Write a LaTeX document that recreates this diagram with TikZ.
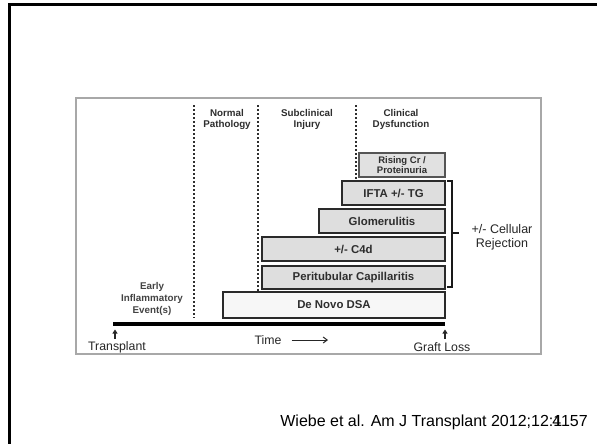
\documentclass[tikz,border=0pt]{standalone}
\usepackage{fontspec}
\setmainfont{Liberation Sans}
\usetikzlibrary{arrows.meta}
\definecolor{figtext}{HTML}{2E2E2E}
\definecolor{boxline}{HTML}{2A2A2A}
\definecolor{boxfill}{HTML}{DEDEDE}
\definecolor{dsafill}{HTML}{F7F7F7}
\definecolor{framegray}{HTML}{A8A8A8}
\tikzset{
  stagebox/.style={draw=boxline, line width=1.8pt, fill=boxfill, text=figtext,
    font=\bfseries\fontsize{11.4}{13}\selectfont, inner sep=0pt, minimum height=24pt},
  smallbox/.style={draw=boxline!80, line width=1.2pt, fill=boxfill!90, text=figtext,
    font=\bfseries\fontsize{9.5}{11}\selectfont, inner sep=0pt, align=center, minimum height=24pt},
  header/.style={text=figtext, font=\bfseries\fontsize{9.8}{11}\selectfont, align=center, inner sep=0pt},
  divider/.style={draw=figtext, line width=1.4pt, dash pattern=on 2pt off 2pt},
  axislabel/.style={text=black!85, font=\fontsize{12.3}{14}\selectfont, inner sep=0pt},
  uparrow/.style={draw=black!85, line width=1.4pt, -{Triangle[width=5pt,length=4pt]}},
  bracketline/.style={draw=black!90, line width=1.5pt}
}
\begin{document}
\begin{tikzpicture}[x=1pt,y=-1pt]
\useasboundingbox (0,0) rectangle (597,444);
\fill[white] (0,0) rectangle (597,444);
% slide frame
\draw[black, line width=3pt] (9.5,444) -- (9.5,4.5) -- (597,4.5);
% figure frame
\draw[framegray, line width=1.5pt] (76,98) rectangle (541,354);
% headers
\node[header] (hnorm) at (227,119.5) {Normal\\Pathology};
\node[header] (hsub) at (307,119.5) {Subclinical\\Injury};
\node[header] (hclin) at (401,119.5) {Clinical\\Dysfunction};
% dividers
\coordinate (d1t) at (194,105); \coordinate (d1b) at (194,318);
\coordinate (d2t) at (258,105); \coordinate (d2b) at (258,318);
\coordinate (d3t) at (356,105); \coordinate (d3b) at (356,200);
\draw[divider] (d1t) -- (d1b);
\draw[divider] (d2t) -- (d2b);
\draw[divider] (d3t) -- (d3b);
% boxes
\node[smallbox, minimum width=86pt] (rising) at (402,165) {Rising Cr /\\[-1pt]Proteinuria};
\node[stagebox, minimum width=103pt] (ifta) at (393.5,193) {IFTA +/- TG};
\node[stagebox, minimum width=126pt] (glom) at (382,221) {Glomerulitis};
\node[stagebox, minimum width=183pt] (c4d) at (353.5,249) {+/- C4d};
\node[stagebox, minimum width=183pt, minimum height=23pt] (peri) at (353.5,277.5) {Peritubular Capillaritis};
\node[stagebox, fill=dsafill, minimum width=222pt, minimum height=26pt] (dsa) at (334,305) {De Novo DSA};
% early event
\node[header, text=figtext!90, font=\bfseries\fontsize{9.8}{12}\selectfont] (early) at (152,299) {Early\\Inflammatory\\Event(s)};
% bracket
\coordinate (bt) at (447,181); \coordinate (btc) at (452,181);
\coordinate (bb) at (447,287); \coordinate (bbc) at (452,287);
\coordinate (bm) at (452,233); \coordinate (bmt) at (459,233);
\draw[bracketline] (bt) -- (btc) -- (bbc) -- (bb);
\draw[bracketline] (bm) -- (bmt);
\node[text=black!85, font=\fontsize{12.5}{14}\selectfont, align=center, inner sep=0pt] (cell) at (502,237) {+/- Cellular\\Rejection};
% timeline
\coordinate (tl0) at (113,324); \coordinate (tl1) at (445,324);
\draw[black, line width=4pt] (tl0) -- (tl1);
\node[axislabel] (transplant) at (117,347) {Transplant};
\node[axislabel] (graft) at (442,347) {Graft Loss};
\node[axislabel] (time) at (268,340) {Time};
\coordinate (timeend) at (328,340);
\draw[black!85, line width=1pt, -{Straight Barb[length=4pt,width=6pt]}] ([xshift=10pt]time.east) -- (timeend);
\coordinate (ua0) at (115,338.5); \coordinate (ua1) at (115,329.5);
\coordinate (ub0) at (445,338.5); \coordinate (ub1) at (445,329.5);
\draw[uparrow] (ua0) -- (ua1);
\draw[uparrow] (ub0) -- (ub1);
% citation
\node[anchor=base east, inner sep=0pt, font=\fontsize{16}{18}\selectfont] (cite) at (588,426) {Wiebe et al. Am J Transplant 2012;12:\makebox[0pt][l]{\kern-1pt 4}1157};
\end{tikzpicture}
\end{document}
